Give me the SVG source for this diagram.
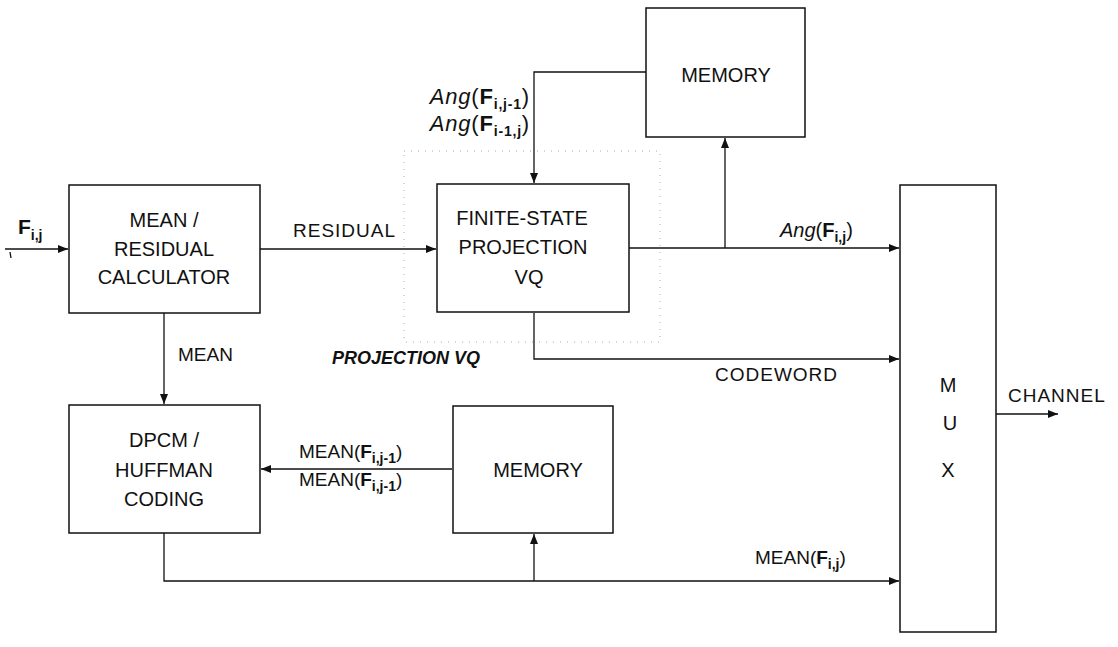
<svg xmlns="http://www.w3.org/2000/svg" width="1118" height="647" viewBox="0 0 1118 647">
<style>
.box{fill:#fff;stroke:#111;stroke-width:1.5}
.ln{fill:none;stroke:#111;stroke-width:1.3}
.dot{fill:none;stroke:#aaa;stroke-width:1;stroke-dasharray:1 6}
text{font-family:"Liberation Sans",Arial,sans-serif;fill:#111}
.bt{font-size:20px;text-anchor:middle}
.lb{font-size:19px}
.sub{font-size:14px;font-weight:bold}
</style>
<defs>
<marker id="ah" viewBox="0 0 10 8" refX="10" refY="4" markerWidth="10" markerHeight="8" markerUnits="userSpaceOnUse" orient="auto">
<path d="M0,0 L10,4 L0,8 Z" fill="#111"/>
</marker>
</defs>
<rect width="1118" height="647" fill="#fff"/>
<rect class="dot" x="404" y="151" width="256" height="191"/>
<g id="connectors">
<path class="ln" d="M5,249 H68" marker-end="url(#ah)"/>
<path class="ln" d="M10,252 L11,258"/>
<path class="ln" d="M260,249 H436" marker-end="url(#ah)"/>
<path class="ln" d="M164,313 V404" marker-end="url(#ah)"/>
<path class="ln" d="M646,72 H534 V183" marker-end="url(#ah)"/>
<path class="ln" d="M629,248 H899" marker-end="url(#ah)"/>
<path class="ln" d="M725,248 V138" marker-end="url(#ah)"/>
<path class="ln" d="M534,313 V359 H899" marker-end="url(#ah)"/>
<path class="ln" d="M452,469 H261" marker-end="url(#ah)"/>
<path class="ln" d="M164,533 V581 H899" marker-end="url(#ah)"/>
<path class="ln" d="M534,581 V534" marker-end="url(#ah)"/>
<path class="ln" d="M996,414 H1058" marker-end="url(#ah)"/>
</g>
<g id="mean-residual">
<rect class="box" x="69" y="185" width="191" height="128"/>
<text class="bt" x="164" y="227">MEAN /</text>
<text class="bt" x="164" y="256">RESIDUAL</text>
<text class="bt" x="164" y="284">CALCULATOR</text>
</g>
<g id="dpcm">
<rect class="box" x="69" y="405" width="191" height="128"/>
<text class="bt" x="164" y="447">DPCM /</text>
<text class="bt" x="164" y="477">HUFFMAN</text>
<text class="bt" x="164" y="506">CODING</text>
</g>
<g id="fspvq">
<rect class="box" x="437" y="184" width="192" height="128"/>
<text class="bt" x="522" y="225">FINITE-STATE</text>
<text class="bt" x="523" y="254">PROJECTION</text>
<text class="bt" x="529" y="284">VQ</text>
</g>
<g id="memory-top">
<rect class="box" x="646" y="8" width="159" height="129"/>
<text class="bt" x="726" y="82">MEMORY</text>
</g>
<g id="memory-bottom">
<rect class="box" x="453" y="406" width="160" height="127"/>
<text class="bt" x="538" y="477">MEMORY</text>
</g>
<g id="mux">
<rect class="box" x="900" y="185" width="96" height="447"/>
<text class="bt" x="948" y="392">M</text>
<text class="bt" x="950" y="430">U</text>
<text class="bt" x="948" y="477">X</text>
</g>
<g id="labels">
<text x="18" y="234" font-size="21" font-weight="bold">F<tspan class="sub" dy="6">i,j</tspan></text>
<text class="lb" x="293" y="237" font-size="20" letter-spacing="1">RESIDUAL</text>
<text class="lb" x="178" y="361" font-size="18">MEAN</text>
<text x="332" y="364" font-size="18" font-weight="bold" font-style="italic">PROJECTION VQ</text>
<text x="530" y="104" font-size="22" text-anchor="end" letter-spacing="0.8"><tspan font-style="italic">Ang</tspan>(<tspan font-weight="bold">F</tspan><tspan class="sub" font-size="16" dy="5">i,j-1</tspan><tspan dy="-5">)</tspan></text>
<text x="530" y="131" font-size="22" text-anchor="end" letter-spacing="0.8"><tspan font-style="italic">Ang</tspan>(<tspan font-weight="bold">F</tspan><tspan class="sub" font-size="16" dy="5">i-1,j</tspan><tspan dy="-5">)</tspan></text>
<text x="780" y="237" font-size="20"><tspan font-style="italic">Ang</tspan>(<tspan font-weight="bold">F</tspan><tspan class="sub" dy="5">i,j</tspan><tspan dy="-5">)</tspan></text>
<text class="lb" x="715" y="381" font-size="20" letter-spacing="1">CODEWORD</text>
<text class="lb" x="299" y="458" font-size="20">MEAN(<tspan font-weight="bold">F</tspan><tspan class="sub" dy="5">i,j-1</tspan><tspan dy="-5">)</tspan></text>
<text class="lb" x="299" y="486" font-size="20">MEAN(<tspan font-weight="bold">F</tspan><tspan class="sub" dy="5">i,j-1</tspan><tspan dy="-5">)</tspan></text>
<text class="lb" x="755" y="564" font-size="20">MEAN(<tspan font-weight="bold">F</tspan><tspan class="sub" dy="5">i,j</tspan><tspan dy="-5">)</tspan></text>
<text class="lb" x="1008" y="402" letter-spacing="1">CHANNEL</text>
</g>
</svg>
